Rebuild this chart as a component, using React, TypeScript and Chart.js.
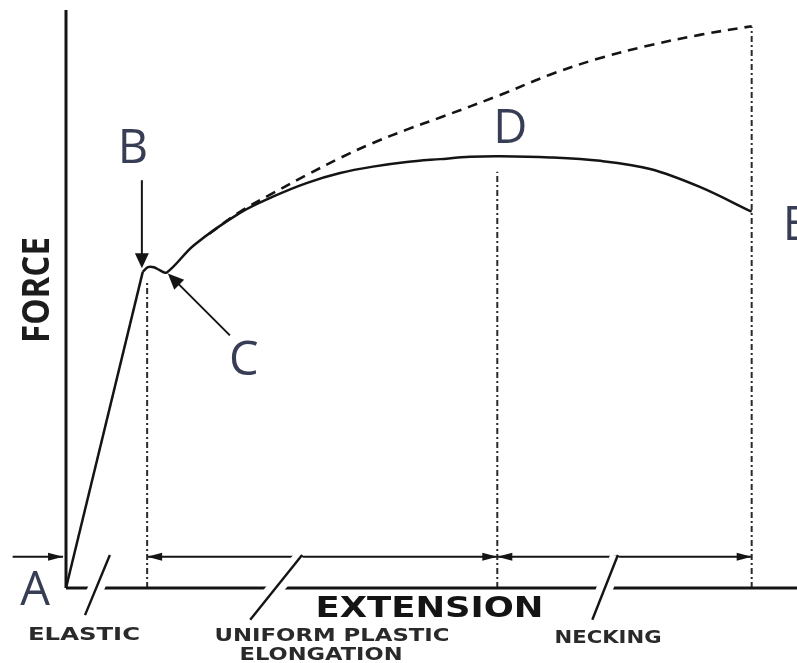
import React, { useEffect, useRef } from "react";
import { Chart, registerables } from "chart.js";

Chart.register(...registerables);

// Extension (x) and force (y) in arbitrary units 0..100
const elasticX = [0, 10.5];
const elasticY = [0, 54.7];

const curveX = [10.5, 11.2, 12.0, 12.8, 13.8, 17.5, 23.8, 28.3, 33.0, 37.5, 42.0, 46.6, 51.2, 55.3, 59.4, 66.2, 73.1, 79.9, 86.7, 93.8];
const curveY = [54.7, 55.5, 55.5, 55.0, 54.6, 59.3, 64.9, 67.7, 70.1, 71.8, 72.9, 73.7, 74.2, 74.6, 74.7, 74.5, 73.9, 72.5, 69.4, 65.1];

const trueX = [19.6, 23.8, 28.3, 33.0, 37.5, 42.0, 46.6, 51.2, 59.4, 66.2, 73.1, 79.9, 86.7, 93.8];
const trueY = [61.3, 65.1, 68.3, 71.5, 74.4, 77.0, 79.3, 81.4, 85.3, 88.8, 91.7, 93.9, 95.7, 97.2];

const guideX = [11.1, 59.0, 93.8];
const guideTop = [52.8, 72.0, 97.1];

const dimLevel = 5.4;
const dimStart = [-7.3, 11.1, 59.0];
const dimEnd = [-0.4, 59.0, 93.8];
const dimArrowStart = [false, true, true];

const slashX0 = [2.6, 25.2, 72.0];
const slashY0 = [-4.7, -5.5, -5.5];
const slashX1 = [6.0, 32.3, 75.5];
const slashY1 = [5.7, 5.7, 5.7];

const pointLabels = ["A", "B", "C", "D", "E"];
const regionLabels = ["ELASTIC", "UNIFORM PLASTIC", "ELONGATION", "NECKING"];
const xTitle = "EXTENSION";
const yTitle = "FORCE";

const INK = "#141414";
const LETTER = "#363d54";

function pts(xs: number[], ys: number[]) {
  return xs.map((v, i) => ({ x: v, y: ys[i] }));
}

function fitText(ctx: CanvasRenderingContext2D, text: string, cx: number, by: number, w: number, font: string, color: string) {
  ctx.save();
  ctx.font = font;
  ctx.fillStyle = color;
  ctx.textAlign = "center";
  ctx.textBaseline = "alphabetic";
  const m = ctx.measureText(text).width;
  ctx.translate(cx, by);
  ctx.scale(w / m, 1);
  ctx.fillText(text, 0, 0);
  ctx.restore();
}

function arrowHead(ctx: CanvasRenderingContext2D, tx: number, ty: number, fx: number, fy: number, len: number, hw: number) {
  const a = Math.atan2(ty - fy, tx - fx);
  const bx = tx - len * Math.cos(a);
  const by = ty - len * Math.sin(a);
  ctx.beginPath();
  ctx.moveTo(tx, ty);
  ctx.lineTo(bx - hw * Math.sin(a), by + hw * Math.cos(a));
  ctx.lineTo(bx + hw * Math.sin(a), by - hw * Math.cos(a));
  ctx.closePath();
  ctx.fill();
}

const annotate = {
  id: "annotate",
  afterDatasetsDraw(chart: any) {
    const { ctx, chartArea } = chart;
    const xs = chart.scales.x;
    const ys = chart.scales.y;
    const px = (v: number) => xs.getPixelForValue(v);
    const py = (v: number) => ys.getPixelForValue(v);
    ctx.save();
    ctx.fillStyle = INK;
    ctx.strokeStyle = INK;

    // dimension arrowheads
    for (let i = 0; i < dimStart.length; i++) {
      const a = px(dimStart[i]);
      const b = px(dimEnd[i]);
      const yy = py(dimLevel);
      arrowHead(ctx, b, yy, a, yy, 15, 4);
      if (dimArrowStart[i]) arrowHead(ctx, a, yy, b, yy, 15, 4);
    }

    // slashes with white halo
    for (let i = 0; i < slashX0.length; i++) {
      const x0 = px(slashX0[i]), y0 = py(slashY0[i]);
      const x1 = px(slashX1[i]), y1 = py(slashY1[i]);
      ctx.lineCap = "butt";
      ctx.strokeStyle = "#ffffff";
      ctx.lineWidth = 16;
      ctx.beginPath();
      ctx.moveTo(x0, y0 - 2);
      ctx.lineTo(x1, y1 + 2);
      ctx.stroke();
      ctx.strokeStyle = INK;
      ctx.lineWidth = 2.4;
      ctx.beginPath();
      ctx.moveTo(x0, y0);
      ctx.lineTo(x1, y1);
      ctx.stroke();
    }

    // B arrow pointing at the upper yield point
    const bx = px(curveX[1]);
    const byy = py(curveY[1]);
    ctx.lineWidth = 2;
    ctx.beginPath();
    ctx.moveTo(bx - 6, byy - 87);
    ctx.lineTo(bx - 6, byy - 10);
    ctx.stroke();
    arrowHead(ctx, bx - 6, byy + 1, bx - 6, byy - 87, 15, 7);

    // C arrow pointing at lower yield point
    const cx = px(curveX[4]);
    const cy = py(curveY[4]);
    ctx.beginPath();
    ctx.moveTo(cx + 63, cy + 63);
    ctx.lineTo(cx + 8, cy + 8);
    ctx.stroke();
    arrowHead(ctx, cx + 1, cy + 1, cx + 63, cy + 63, 16, 7);

    // point letters
    ctx.font = '500 47px "Open Sans", sans-serif';
    ctx.fillStyle = LETTER;
    ctx.textBaseline = "alphabetic";
    ctx.textAlign = "center";
    ctx.fillText(pointLabels[0], px(0) - 31, py(0) + 17);
    ctx.fillText(pointLabels[1], bx - 15, byy - 104);
    ctx.fillText(pointLabels[2], cx + 77, cy + 103);
    const dI = 14;
    ctx.fillText(pointLabels[3], px(curveX[dI]) + 10, py(curveY[dI]) - 13);
    const eI = curveX.length - 1;
    ctx.textAlign = "left";
    ctx.fillText(pointLabels[4], px(curveX[eI]) + 31, py(curveY[eI]) + 28);

    // axis titles
    const midX = (chartArea.left + chartArea.right) / 2;
    fitText(ctx, xTitle, midX - 2, chartArea.bottom + 29, 228, 'bold 28px "DejaVu Sans", sans-serif', INK);
    ctx.save();
    ctx.translate(chartArea.left - 17, 290);
    ctx.rotate(-Math.PI / 2);
    fitText(ctx, yTitle, 0, 0, 106, 'bold 38px "Open Sans", sans-serif', "#1c1c1c");
    ctx.restore();

    // region labels
    const small = 'bold 17px "DejaVu Sans", sans-serif';
    fitText(ctx, regionLabels[0], 84, 640, 112, small, "#2a2a2a");
    fitText(ctx, regionLabels[1], 332, 641, 235, small, "#2a2a2a");
    fitText(ctx, regionLabels[2], 321, 660, 163, small, "#2a2a2a");
    fitText(ctx, regionLabels[3], 608, 643, 107, small, "#2a2a2a");

    ctx.restore();
  },
};

export default function App() {
  const ref = useRef<HTMLCanvasElement | null>(null);
  useEffect(() => {
    if (!ref.current) return;
    const base = { showLine: true, borderColor: INK, pointRadius: 0, pointHoverRadius: 0, fill: false, clip: false, tension: 0 };
    const datasets: any[] = [
      { ...base, data: pts(elasticX, elasticY), borderWidth: 2.5 },
      { ...base, data: pts(curveX, curveY), borderWidth: 2.5, tension: 0.35 },
      { ...base, data: pts(trueX, trueY), borderWidth: 2.6, borderDash: [10, 7], tension: 0.35 },
      { ...base, data: [{ x: 0, y: 0 }, { x: 100, y: 0 }], borderWidth: 3 },
      { ...base, data: [{ x: 0, y: 0 }, { x: 0, y: 100 }], borderWidth: 3 },
    ];
    guideX.forEach((g, i) => {
      datasets.push({ ...base, data: [{ x: g, y: 0 }, { x: g, y: guideTop[i] }], borderWidth: 2, borderColor: "#2a2a2a", borderDash: [6, 3, 2, 3] });
    });
    dimStart.forEach((s, i) => {
      datasets.push({ ...base, data: [{ x: s, y: dimLevel }, { x: dimEnd[i], y: dimLevel }], borderWidth: 2 });
    });
    const chart = new Chart(ref.current, {
      type: "scatter",
      data: { datasets },
      options: {
        responsive: false,
        devicePixelRatio: 1,
        animation: false,
        events: [],
        layout: { padding: { left: 66, top: 10, right: 0, bottom: 75 } },
        scales: {
          x: { type: "linear", min: 0, max: 100, display: false },
          y: { type: "linear", min: 0, max: 100, display: false },
        },
        plugins: { legend: { display: false }, tooltip: { enabled: false } },
      },
      plugins: [annotate],
    } as any);
    return () => chart.destroy();
  }, []);
  return (
    <div style={{ position: "fixed", left: 0, top: 0, width: 797, height: 663, background: "#fff" }}>
      <canvas ref={ref} width={797} height={663} style={{ display: "block" }} />
    </div>
  );
}
